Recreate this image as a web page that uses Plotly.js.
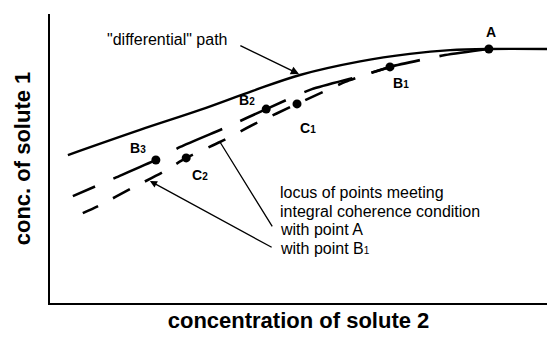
<!DOCTYPE html>
<html>
<head>
<meta charset="utf-8">
<script src="https://cdn.plot.ly/plotly-3.0.1.min.js"></script>
<style>
  html, body { margin: 0; padding: 0; background: #fff; }
  #chart { width: 547px; height: 341px; }
</style>
</head>
<body>
<div id="chart"></div>
<script>
// "differential" path in the solute-2 / solute-1 concentration plane
const pathX = [3.6, 18.1, 30.2, 40.8, 50.3, 62.4, 72.4, 80.5, 88.3, 100];
const pathY = [51.2, 59.9, 66.8, 73.4, 78.9, 83.6, 86.2, 87.5, 87.9, 87.9];

// locus of points meeting the integral coherence condition with point A
const locusAX = [88.3, 79.5, 68.4, 62.4, 52.7, 43.5, 35.6, 26.2, 21.3, 13.1, 4.6];
const locusAY = [87.9, 85.8, 81.7, 78.5, 74.0, 67.1, 60.9, 54.0, 49.5, 43.3, 37.0];

// locus of points meeting the integral coherence condition with point B1
const locusBX = [68.4, 59.4, 54.9, 49.7, 41.6, 34.2, 27.4, 22.7, 16.1, 10.1, 6.6];
const locusBY = [81.7, 76.5, 73.0, 68.9, 62.3, 55.7, 50.2, 45.3, 39.4, 33.9, 31.1];

// named composition points
const pointNames = ['A', 'B1', 'B2', 'B3', 'C1', 'C2'];
const pointX = [88.3, 68.4, 43.5, 21.3, 49.7, 27.4];
const pointY = [87.9, 81.7, 67.1, 49.5, 68.9, 50.2];

const FONT = '"Liberation Sans", Arial, Helvetica, sans-serif';

// label placement around each point, in pixels
const labelShift = {
  A:  [2, 17],
  B1: [11, -16],
  B2: [-19, 9],
  B3: [-18, 12],
  C1: [11, -24],
  C2: [14, -17]
};

function labelHtml(name) {
  const main = name.charAt(0);
  const sub = name.slice(1);
  return '<b>' + main + (sub ? '<span style="font-size:10px">' + sub + '</span>' : '') + '</b>';
}

const traces = [
  {
    x: pathX, y: pathY, mode: 'lines', type: 'scatter',
    line: { color: '#000', width: 2.4, shape: 'spline', smoothing: 1 },
    hoverinfo: 'skip'
  },
  {
    x: locusAX, y: locusAY, mode: 'lines', type: 'scatter',
    line: { color: '#000', width: 2.6, dash: '50px,20px', shape: 'spline', smoothing: 0.6 },
    hoverinfo: 'skip'
  },
  {
    x: locusBX, y: locusBY, mode: 'lines', type: 'scatter',
    line: { color: '#000', width: 2.6, dash: '19px,17px', shape: 'spline', smoothing: 0.6 },
    hoverinfo: 'skip'
  },
  {
    x: pointX, y: pointY, mode: 'markers', type: 'scatter',
    marker: { color: '#000', size: 9, symbol: 'circle' },
    text: pointNames, hoverinfo: 'text'
  }
];

const annotations = pointNames.map((n, i) => ({
  x: pointX[i], y: pointY[i], xref: 'x', yref: 'y',
  text: labelHtml(n), showarrow: false,
  xshift: labelShift[n][0], yshift: labelShift[n][1],
  font: { family: FONT, size: 14, color: '#000' }
}));

// explanatory texts
const note = (text, x, y) => ({
  x: x, y: y, xref: 'x', yref: 'y', text: text, showarrow: false,
  xanchor: 'left', yanchor: 'middle',
  font: { family: FONT, size: 16, color: '#000' }
});
annotations.push(note('"differential" path', 11.1, 91.3));
annotations.push(note('locus of points meeting', 45.9, 38.4));
annotations.push(note('integral coherence condition', 45.9, 31.8));
annotations.push(note('with point A', 45.9, 25.3));
annotations.push(note('with point B<span style="font-size:10px">1</span>', 45.9, 19.0));

// pointer arrows
const pointer = (x, y, ax, ay, head, w) => ({
  x: x, y: y, xref: 'x', yref: 'y',
  ax: ax, ay: ay, axref: 'x', ayref: 'y',
  text: '', showarrow: true, arrowhead: head, arrowsize: 1.1,
  arrowwidth: w, arrowcolor: '#000', standoff: 0, startstandoff: 0
});
annotations.push(pointer(50.1, 79.2, 38.0, 89.3, 2, 1.5));
annotations.push(pointer(locusBX[5], locusBY[5], 44.9, 26.0, 0, 1.3));
annotations.push(pointer(20.1, 42.2, 44.9, 19.0, 2, 1.3));

const layout = {
  width: 547, height: 341,
  margin: { l: 50, r: 0, t: 14, b: 38, pad: 0 },
  paper_bgcolor: '#fff', plot_bgcolor: '#fff',
  showlegend: false,
  font: { family: FONT, color: '#000' },
  xaxis: {
    range: [0, 100], showgrid: false, zeroline: false,
    showline: true, linecolor: '#000', linewidth: 2,
    ticks: '', showticklabels: false, fixedrange: true,
    title: { text: '<b>concentration of solute 2</b>', font: { family: FONT, size: 22, color: '#000' }, standoff: 9 }
  },
  yaxis: {
    range: [0, 100], showgrid: false, zeroline: false,
    showline: true, linecolor: '#000', linewidth: 2,
    ticks: '', showticklabels: false, fixedrange: true,
    title: { text: '<b>conc. of solute 1</b>', font: { family: FONT, size: 22, color: '#000' }, standoff: 11 }
  },
  annotations: annotations
};

Plotly.newPlot('chart', traces, layout, { displayModeBar: false, staticPlot: true });
</script>
</body>
</html>
